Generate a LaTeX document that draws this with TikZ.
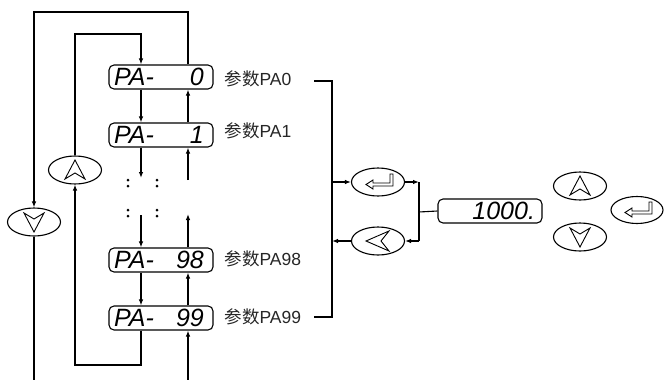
\documentclass[tikz,border=0pt]{standalone}
\usepackage{fontspec}
\setmainfont{Liberation Sans}
\newfontfamily\cjk{Noto Sans CJK SC}
\newfontfamily\segfont{Liberation Sans}
\usetikzlibrary{arrows.meta,shapes.geometric,calc}
\newcommand\keyupsym[1]{\draw[sym,shift={(#1)}] (0,-10) -- (10,9) -- (0,3) -- (-10,9) -- cycle;}
\newcommand\keydownsym[1]{\draw[sym,shift={(#1)}] (0,10) -- (10,-9) -- (0,-3) -- (-10,-9) -- cycle;}
\newcommand\keyentersym[1]{\draw[sym,shift={(#1)}] (-12,2.5) -- (-5,-2) -- (-5,1) -- (12,1) -- (12,-8) -- (15,-8) -- (15,4) -- (-5,4) -- (-5,7) -- cycle;}
\newcommand\keybacksym[1]{\draw[sym,shift={(#1)}] (-12,0) -- (11,-10) -- (3,0) -- (11,10) -- cycle;}
\begin{document}
\begin{tikzpicture}[x=1pt,y=-1pt,
 line width=1.1pt,
 arr/.style={-{Latex[length=6pt,width=4.5pt]}},
 dispbox/.style={draw, rounded corners=5pt, minimum height=24pt, text width=94pt, inner xsep=5pt, inner ysep=0pt, text height=17.5pt, text depth=0pt, font=\segfont\itshape\fontsize{25}{25}\selectfont},
 key/.style={draw, ellipse, minimum width=53pt, minimum height=28pt, inner sep=0pt},
 sym/.style={line width=0.9pt, line join=miter},
 lab/.style={anchor=west, inner sep=0pt, text=black!85, font=\fontsize{17.5}{17.5}\selectfont},
 dot/.style={fill, circle, inner sep=0pt, minimum size=3pt},
]
\path[use as bounding box, fill=white] (0,0) rectangle (664,380);

% parameter boxes
\node[dispbox] (p0) at (161,77) {PA-\hfill 0\,};
\node[dispbox] (p1) at (161,135) {PA-\hfill 1\,};
\node[dispbox] (p98) at (161,260) {PA-\hfill 98\,};
\node[dispbox] (p99) at (161,318) {PA-\hfill 99\,};

% labels
\node[lab] (l0) at (224,79) {{\cjk 参数}PA0};
\node[lab] (l1) at (224,131) {{\cjk 参数}PA1};
\node[lab] (l98) at (224,259) {{\cjk 参数}PA98};
\node[lab] (l99) at (224,317) {{\cjk 参数}PA99};

% keys
\node[key] (dn) at (34,222) {};
\node[key] (up) at (75,170) {};
\node[key] (en) at (378,182) {};
\node[key] (bk) at (378,241) {};
\node[key] (up2) at (580,186) {};
\node[key] (dn2) at (580,237) {};
\node[key, minimum width=52pt, minimum height=27pt] (en2) at (637,210) {};
\keyupsym{up} \keydownsym{dn} \keyentersym{en} \keybacksym{bk}
\keyupsym{up2} \keydownsym{dn2} \keyentersym{en2}

% display
\node[dispbox, text width=90pt, inner xsep=7pt] (disp) at (490,211) {\hfill 1000.};

% column coordinates
\coordinate (L) at (141,0);
\coordinate (R) at (188,0);
\coordinate (d1) at (141,178);
\coordinate (d2) at (141,215);
\coordinate (u1) at (188,180);
\coordinate (u2) at (188,214);
\coordinate (ibr) at (141,365);
\coordinate (itop) at (141,34);
\coordinate (otop) at (188,12);
\coordinate (ob) at (34,380);
\coordinate (rb) at (188,380);

% downward column
\draw[arr] (up.north) |- (itop) -- (p0.north -| L);
\draw[arr] (p0.south -| L) -- (p1.north -| L);
\draw[arr] (p1.south -| L) -- (d1);
\draw[arr] (d2) -- (p98.north -| L);
\draw[arr] (p98.south -| L) -- (p99.north -| L);
\draw[arr] (p99.south -| L) -- (ibr) -| (up.south);

% upward column
\draw[arr] (rb) -- (p99.south -| R);
\draw[arr] (p99.north -| R) -- (p98.south -| R);
\draw[arr] (p98.north -| R) -- (u2);
\draw[arr] (u1) -- (p1.south -| R);
\draw[arr] (p1.north -| R) -- (p0.south -| R);
\draw[arr] (p0.north -| R) -- (otop) -| (dn.north);
\draw (dn.south) -- (ob);

% dots
\foreach \x in {128,157}{
  \foreach \y in {180,186,210,216}{
    \node[dot] at (\x,\y) {};
  }
}

% bracket
\coordinate (b0) at (314,81);
\coordinate (b1) at (332,81);
\coordinate (b2) at (332,317);
\coordinate (b3) at (314,317);
\draw (b0) -- (b1) -- (b2) -- (b3);
\draw[arr] (en.west -| b1) -- (en.west);
\draw[arr] (bk.west) -- (bk.west -| b1);

% junction to display
\coordinate (j) at (419,212);
\draw[arr] (en.east) -- (en.east -| j);
\draw (en.east -| j) -- (bk.east -| j);
\draw[arr] (bk.east -| j) -- (bk.east);
\draw (j) -- (disp.west);
\end{tikzpicture}
\end{document}
